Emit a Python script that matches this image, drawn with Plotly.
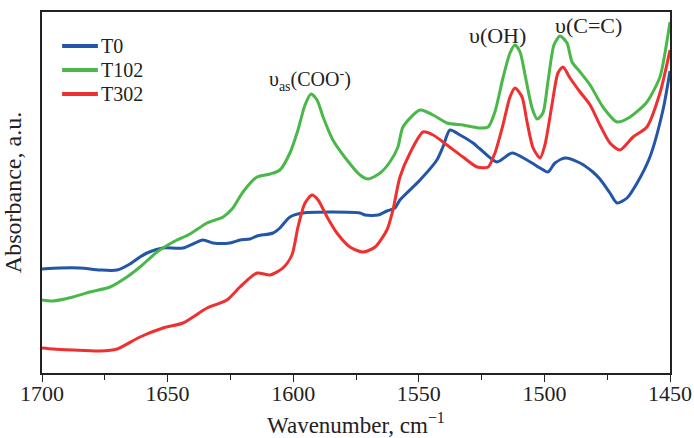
import plotly.graph_objects as go

SERIES_NAMES = ["T0", "T102", "T302"]
COLORS = ["#2356A6", "#49B848", "#EE3030"]

T0_WN = [1700, 1692.8, 1684.9, 1676.9, 1670.1, 1665.0, 1661.0, 1658.2, 1651.8, 1643.9,
         1635.9, 1631.9, 1625.2, 1621.2, 1617.2, 1614.4, 1608.0, 1605.3, 1601.3, 1596.1,
         1573.4, 1571.4, 1566.2, 1562.7, 1559.5, 1557.5, 1549.5, 1542.8, 1540.4, 1537.6,
         1533.6, 1528.4, 1525.6, 1518.9, 1512.9, 1506.9, 1501.7, 1498.6, 1495.8, 1491.8,
         1485.8, 1480.7, 1477.9, 1473.9, 1471.1, 1467.1, 1463.1, 1458.0, 1452.8, 1450]
T0_ABS = [1.04, 1.05, 1.05, 1.03, 1.03, 1.09, 1.16, 1.20, 1.25, 1.25,
          1.33, 1.30, 1.30, 1.33, 1.34, 1.37, 1.40, 1.45, 1.56, 1.60,
          1.60, 1.58, 1.58, 1.62, 1.65, 1.73, 1.93, 2.13, 2.26, 2.43,
          2.38, 2.30, 2.24, 2.11, 2.20, 2.13, 2.05, 2.01, 2.10, 2.15,
          2.10, 2.01, 1.94, 1.80, 1.70, 1.75, 1.90, 2.16, 2.63, 3.02]

T102_WN = [1700, 1695.6, 1687.7, 1680.9, 1672.9, 1666.2, 1661.0, 1654.2, 1647.8, 1641.1,
           1634.3, 1627.9, 1624.0, 1620.0, 1614.4, 1609.2, 1605.3, 1601.3, 1598.1, 1595.3,
           1592.9, 1590.5, 1588.1, 1584.2, 1578.6, 1573.4, 1570.2, 1565.4, 1561.5, 1558.3,
           1556.3, 1549.5, 1544.3, 1538.8, 1532.4, 1525.6, 1522.4, 1519.7, 1516.5, 1513.7,
           1511.7, 1509.7, 1507.7, 1504.9, 1502.9, 1500.6, 1498.6, 1496.2, 1493.8, 1491.0,
           1489.0, 1485.8, 1481.8, 1476.7, 1471.1, 1465.9, 1459.2, 1454.0, 1452.0, 1450]
T102_ABS = [0.73, 0.72, 0.76, 0.81, 0.86, 0.96, 1.06, 1.21, 1.31, 1.39,
            1.50, 1.56, 1.65, 1.81, 1.96, 1.99, 2.03, 2.20, 2.43, 2.68,
            2.79, 2.73, 2.56, 2.33, 2.13, 1.98, 1.94, 2.00, 2.11, 2.26,
            2.46, 2.63, 2.58, 2.50, 2.48, 2.45, 2.46, 2.61, 2.95, 3.20,
            3.28, 3.21, 2.98, 2.65, 2.54, 2.60, 2.91, 3.28, 3.37, 3.30,
            3.11, 3.01, 2.88, 2.66, 2.51, 2.56, 2.71, 2.96, 3.20, 3.51]

T302_WN = [1700, 1695.6, 1687.7, 1676.9, 1670.1, 1661.0, 1651.8, 1643.9, 1634.3, 1626.4,
           1621.2, 1614.4, 1609.2, 1604.1, 1600.5, 1598.1, 1595.3, 1592.5, 1590.1, 1586.5,
           1582.6, 1577.4, 1572.2, 1567.4, 1562.7, 1560.3, 1557.5, 1553.5, 1548.3, 1544.3,
           1538.8, 1532.4, 1526.8, 1522.4, 1519.7, 1516.5, 1513.7, 1511.7, 1508.9, 1506.9,
           1504.5, 1501.7, 1499.8, 1497.0, 1494.6, 1492.6, 1489.8, 1485.8, 1481.8, 1477.9,
           1473.9, 1469.9, 1464.7, 1459.2, 1454.0, 1450]
T302_ABS = [0.25, 0.24, 0.23, 0.22, 0.24, 0.36, 0.45, 0.50, 0.65, 0.73,
            0.86, 1.00, 0.98, 1.05, 1.18, 1.46, 1.70, 1.78, 1.73, 1.56,
            1.40, 1.26, 1.21, 1.26, 1.43, 1.63, 1.96, 2.20, 2.41, 2.38,
            2.28, 2.16, 2.06, 2.06, 2.20, 2.48, 2.76, 2.85, 2.76, 2.51,
            2.25, 2.15, 2.28, 2.68, 3.00, 3.06, 2.95, 2.81, 2.68, 2.48,
            2.30, 2.23, 2.36, 2.46, 2.80, 3.23]

X_TICKS = [1700, 1650, 1600, 1550, 1500, 1450]

PEAK_LABELS = ["υ<sub>as</sub>(COO<sup>-</sup>)", "υ(OH)", "υ(C=C)"]
PEAK_X = [1593.3, 1518.5, 1482.6]
PEAK_Y = [2.93, 3.38, 3.48]
PEAK_SIZES = [20, 22, 22]

FONT = "Liberation Serif"
TXT = "#222222"

series = [(T0_WN, T0_ABS), (T102_WN, T102_ABS), (T302_WN, T302_ABS)]

fig = go.Figure()
for name, color, (wn, ab) in zip(SERIES_NAMES, COLORS, series):
    fig.add_trace(go.Scatter(x=wn, y=ab, mode="lines", name=name,
                             line=dict(color=color, width=3, shape="spline",
                                       smoothing=0.7),
                             showlegend=False))

# peak labels
for lab, px, py, fs in zip(PEAK_LABELS, PEAK_X, PEAK_Y, PEAK_SIZES):
    fig.add_annotation(x=px, y=py, text=lab, showarrow=False,
                       font=dict(family=FONT, size=fs, color=TXT),
                       xanchor="center", yanchor="middle")

# legend drawn as sample lines + labels
leg_y = [0.906, 0.839, 0.773]
for name, color, ly in zip(SERIES_NAMES, COLORS, leg_y):
    fig.add_shape(type="line", xref="paper", yref="paper",
                  x0=0.032, x1=0.089, y0=ly, y1=ly,
                  line=dict(color=color, width=4))
    fig.add_annotation(xref="paper", yref="paper", x=0.091, y=ly, text=name,
                       showarrow=False, xanchor="left", yanchor="middle",
                       font=dict(family=FONT, size=20, color=TXT))

fig.update_layout(
    width=694, height=438,
    margin=dict(l=42, r=24, t=12, b=65),
    paper_bgcolor="white", plot_bgcolor="white",
    font=dict(family=FONT, size=22, color=TXT),
)
fig.update_xaxes(range=[1700, 1450], tickvals=X_TICKS, ticks="outside", ticklen=7,
                 tickcolor="#222", tickwidth=1.2, automargin=False,
                 ticklabelstandoff=-7,
                 minor=dict(dtick=25, ticks="outside", ticklen=5, tickcolor="#222"),
                 showline=True, linecolor="#222", linewidth=1.5, mirror=True,
                 showgrid=False, zeroline=False,
                 tickfont=dict(family=FONT, size=22, color=TXT),
                 title=dict(text="Wavenumber, cm<sup>−1</sup>",
                            font=dict(family=FONT, size=23, color=TXT)))
fig.update_yaxes(range=[0, 3.61], showticklabels=False, ticks="", automargin=False,
                 showline=True, linecolor="#222", linewidth=1.5, mirror=True,
                 showgrid=False, zeroline=False,
                 title=dict(text="Absorbance, a.u.",
                            font=dict(family=FONT, size=24, color=TXT)))

fig.write_html("out.html")
